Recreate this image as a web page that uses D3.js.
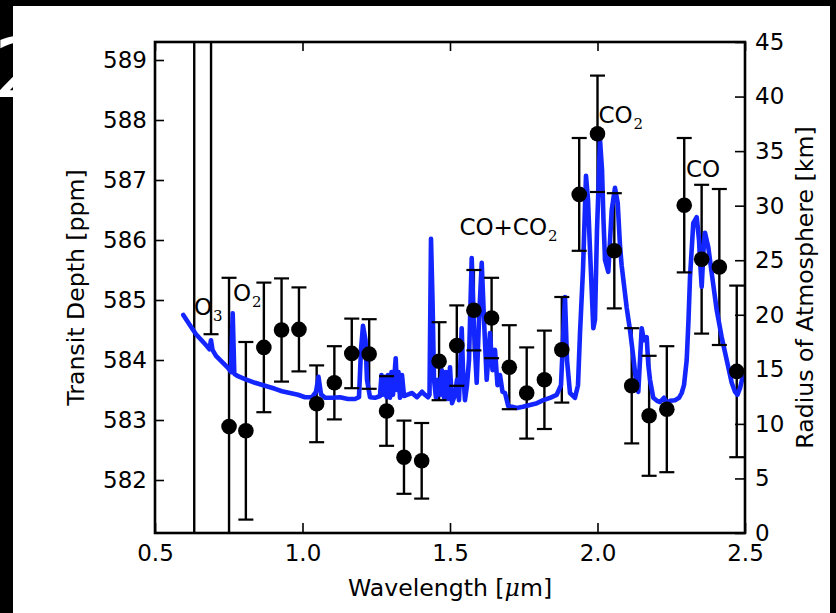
<!DOCTYPE html>
<html>
<head>
<meta charset="utf-8">
<script src="https://cdn.jsdelivr.net/npm/d3@7"></script>
<style>
  html, body { margin: 0; padding: 0; background: #000; }
  svg { display: block; }
  text { font-family: "DejaVu Sans", sans-serif; }
</style>
</head>
<body>
<svg id="chart" width="836" height="613"></svg>
<script>
// Binned transit-depth measurements (wavelength in µm, depth and 1-sigma error in ppm)
const binWavelength = [0.633, 0.690, 0.751, 0.808, 0.869, 0.929, 0.988, 1.048, 1.108, 1.167,
  1.226, 1.285, 1.344, 1.404, 1.463, 1.523, 1.581, 1.641, 1.701, 1.760, 1.820, 1.879,
  1.938, 2.000, 2.057, 2.116, 2.175, 2.235, 2.294, 2.353, 2.413, 2.472];
const binDepth = [590.00, 591.50, 582.89, 582.82, 584.21, 584.50, 584.51, 583.27, 583.62, 584.11,
  584.10, 583.15, 582.38, 582.32, 583.98, 584.24, 584.83, 584.70, 583.88, 583.45, 583.67, 584.17,
  586.76, 587.77, 585.82, 583.57, 583.07, 583.18, 586.58, 585.68, 585.55, 583.81];
const binError = [10.00, 7.07, 2.48, 1.48, 1.08, 0.86, 0.70, 0.64, 0.61, 0.58,
  0.58, 0.58, 0.61, 0.63, 0.65, 0.67, 0.67, 0.67, 0.70, 0.76, 0.82, 0.88,
  0.94, 0.97, 0.96, 0.96, 1.00, 1.05, 1.12, 1.24, 1.30, 1.43];

// Model transmission spectrum
const modelWavelength = [0.5959, 0.6186, 0.6390, 0.6593, 0.6763, 0.6847, 0.6898, 0.6949, 0.7068, 0.7271,
  0.7475, 0.7576, 0.7634, 0.7688, 0.7814, 0.8051, 0.8390, 0.8729, 0.9068, 0.9305,
  0.9576, 0.9847, 1.0085, 1.0322, 1.0458, 1.0542, 1.0627, 1.0763, 1.1000, 1.1271,
  1.1542, 1.1780, 1.1915, 1.1983, 1.2051, 1.2136, 1.2186, 1.2288, 1.2458, 1.2627,
  1.2678, 1.2729, 1.2797, 1.2847, 1.2898, 1.2966, 1.3017, 1.3068, 1.3159, 1.3203,
  1.3254, 1.3305, 1.3373, 1.3441, 1.3542, 1.3712, 1.3881, 1.4051, 1.4153, 1.4254,
  1.4305, 1.4356, 1.4407, 1.4458, 1.4525, 1.4593, 1.4661, 1.4729, 1.4797, 1.4864,
  1.4932, 1.5000, 1.5068, 1.5169, 1.5237, 1.5305, 1.5397, 1.5441, 1.5508, 1.5576,
  1.5644, 1.5736, 1.5814, 1.5905, 1.5983, 1.6075, 1.6153, 1.6244, 1.6356, 1.6441,
  1.6525, 1.6610, 1.6695, 1.6780, 1.6864, 1.6976, 1.7102, 1.7261, 1.7475, 1.7712,
  1.7949, 1.8163, 1.8390, 1.8617, 1.8763, 1.8831, 1.8898, 1.8966, 1.9068, 1.9237,
  1.9339, 1.9407, 1.9508, 1.9610, 1.9678, 1.9746, 1.9858, 1.9915, 1.9983, 2.0027,
  2.0085, 2.0153, 2.0203, 2.0254, 2.0366, 2.0482, 2.0593, 2.0685, 2.0763, 2.0820,
  2.0898, 2.0990, 2.1102, 2.1214, 2.1329, 2.1383, 2.1441, 2.1498, 2.1576, 2.1668,
  2.1722, 2.1780, 2.1892, 2.2017, 2.2119, 2.2254, 2.2356, 2.2458, 2.2627, 2.2763,
  2.2854, 2.2932, 2.3024, 2.3085, 2.3136, 2.3247, 2.3363, 2.3441, 2.3475, 2.3532,
  2.3593, 2.3644, 2.3756, 2.3871, 2.4041, 2.4210, 2.4380, 2.4549, 2.4661, 2.4746,
  2.4831, 2.4898, 2.5000];
const modelDepth = [584.75, 584.58, 584.43, 584.32, 584.23, 584.18, 584.33, 584.17, 584.07, 583.97,
  583.87, 583.80, 584.78, 583.77, 583.73, 583.68, 583.62, 583.57, 583.52, 583.48,
  583.45, 583.42, 583.38, 583.38, 583.47, 583.72, 583.43, 583.37, 583.37, 583.38,
  583.35, 583.35, 583.38, 584.17, 584.57, 584.33, 583.67, 583.38, 583.37, 583.40,
  583.75, 583.42, 583.72, 583.38, 583.75, 583.37, 583.80, 583.42, 584.03, 583.50,
  583.80, 583.37, 583.75, 583.40, 583.42, 583.45, 583.38, 583.47, 583.42, 583.38,
  583.42, 586.02, 585.00, 583.67, 583.37, 583.67, 583.42, 583.83, 583.37, 583.80,
  583.35, 583.88, 583.28, 583.42, 583.67, 583.33, 584.53, 583.83, 583.33, 583.58,
  584.00, 585.70, 584.50, 583.62, 584.67, 585.62, 584.67, 583.67, 584.45, 583.83,
  584.17, 583.58, 583.75, 583.47, 583.45, 583.23, 583.22, 583.20, 583.22, 583.25,
  583.28, 583.33, 583.37, 583.42, 583.58, 584.33, 585.05, 584.00, 583.45, 583.37,
  583.58, 584.45, 585.50, 587.07, 586.67, 585.83, 584.53, 584.67, 586.17, 586.78,
  587.67, 587.17, 586.33, 585.67, 585.47, 586.50, 586.87, 586.62, 585.90, 585.57,
  585.25, 584.87, 584.50, 584.05, 583.55, 583.47, 584.00, 584.53, 584.33, 584.38,
  583.92, 583.67, 583.37, 583.32, 583.30, 583.37, 583.28, 583.32, 583.33, 583.37,
  583.45, 583.58, 584.00, 584.67, 585.38, 586.28, 586.38, 586.00, 585.67, 585.22,
  585.83, 586.12, 585.88, 585.45, 584.83, 584.38, 584.00, 583.62, 583.47, 583.42,
  583.53, 583.67, 583.73];

// Axis ticks
const xTicks = [0.5, 1.0, 1.5, 2.0, 2.5];
const depthTicks = [582, 583, 584, 585, 586, 587, 588, 589];
const radiusTicks = [0, 5, 10, 15, 20, 25, 30, 35, 40, 45];

// Molecule labels: main text, subscript, anchor wavelength and depth
const moleculeMain = ["O", "O", "CO+CO", "CO", "CO"];
const moleculeSub = ["3", "2", "2", "2", ""];
const moleculeX = [0.632, 0.764, 1.532, 2.003, 2.300];
const moleculeY = [584.75, 584.98, 586.08, 587.95, 587.05];

const svg = d3.select("#chart");
const W = 836, H = 613;
const mLeft = 155, mRight = 745, mTop = 42, mBottom = 533;

// Page frame
svg.append("rect").attr("x", 0).attr("y", 0).attr("width", W).attr("height", H).attr("fill", "#000");
svg.append("rect").attr("x", 13).attr("y", 6).attr("width", 817).attr("height", H - 6).attr("fill", "#fff");

const x = d3.scaleLinear().domain([0.5, 2.5]).range([mLeft, mRight]);
const y = d3.scaleLinear().domain([581.1167, 589.3]).range([mBottom, mTop]);
const yR = d3.scaleLinear().domain([0, 45]).range([mBottom, mTop]);

svg.append("clipPath").attr("id", "plotClip")
  .append("rect").attr("x", mLeft).attr("y", mTop).attr("width", mRight - mLeft).attr("height", mBottom - mTop);

const plot = svg.append("g").attr("clip-path", "url(#plotClip)");

const pts = binWavelength.map((w, i) => ({ w, d: binDepth[i], e: binError[i] }));

// Error bar stems
plot.append("g").selectAll("line").data(pts).join("line")
  .attr("x1", d => x(d.w)).attr("x2", d => x(d.w))
  .attr("y1", d => y(d.d - d.e)).attr("y2", d => y(d.d + d.e))
  .attr("stroke", "#000").attr("stroke-width", 2.4);

// Model spectrum
const model = modelWavelength.map((w, i) => [w, modelDepth[i]]);
plot.append("path")
  .attr("d", d3.line().x(d => x(d[0])).y(d => y(d[1]))(model))
  .attr("fill", "none").attr("stroke", "#1426ff").attr("stroke-width", 4.6)
  .attr("stroke-linejoin", "round").attr("stroke-linecap", "round");

// Caps
const caps = plot.append("g");
pts.forEach(d => {
  [d.d - d.e, d.d + d.e].forEach(v => {
    caps.append("line")
      .attr("x1", x(d.w) - 7.5).attr("x2", x(d.w) + 7.5)
      .attr("y1", y(v)).attr("y2", y(v))
      .attr("stroke", "#000").attr("stroke-width", 2.2);
  });
});

// Markers
plot.append("g").selectAll("circle").data(pts).join("circle")
  .attr("cx", d => x(d.w)).attr("cy", d => y(d.d)).attr("r", 7.8).attr("fill", "#000");

// Axes
const fontSize = "23px";
function styleAxis(g) {
  g.selectAll(".domain").remove();
  g.selectAll(".tick line").attr("stroke", "#000").attr("stroke-width", 1.6);
  g.selectAll(".tick text").attr("font-size", fontSize).attr("fill", "#000")
    .attr("font-family", "DejaVu Sans");
}

svg.append("g").attr("transform", `translate(0,${mBottom})`)
  .call(d3.axisBottom(x).tickValues(xTicks).tickFormat(d3.format(".1f")).tickSize(-10).tickPadding(12))
  .call(styleAxis);
svg.append("g").attr("transform", `translate(0,${mTop})`)
  .call(d3.axisTop(x).tickValues(xTicks).tickFormat("").tickSize(-9))
  .call(styleAxis);
svg.append("g").attr("transform", `translate(${mLeft},0)`)
  .call(d3.axisLeft(y).tickValues(depthTicks).tickFormat(d3.format("d")).tickSize(-9).tickPadding(8))
  .call(styleAxis);
svg.append("g").attr("transform", `translate(${mRight},0)`)
  .call(d3.axisRight(yR).tickValues(radiusTicks).tickFormat(d3.format("d")).tickSize(-10).tickPadding(10))
  .call(styleAxis);

// Frame
svg.append("rect").attr("x", mLeft).attr("y", mTop).attr("width", mRight - mLeft).attr("height", mBottom - mTop)
  .attr("fill", "none").attr("stroke", "#000").attr("stroke-width", 2.6);

// Axis titles
const titleSize = "23.6px";
const xt = svg.append("text").attr("x", (mLeft + mRight) / 2).attr("y", 596)
  .attr("text-anchor", "middle").attr("font-size", titleSize).attr("fill", "#000");
xt.append("tspan").text("Wavelength [");
xt.append("tspan").attr("font-family", "DejaVu Serif").attr("font-style", "italic").text("μ");
xt.append("tspan").text("m]");

svg.append("text").attr("transform", `translate(84,${(mTop + mBottom) / 2}) rotate(-90)`)
  .attr("text-anchor", "middle").attr("font-size", titleSize).attr("fill", "#000")
  .text("Transit Depth [ppm]");
svg.append("text").attr("transform", `translate(813,${(mTop + mBottom) / 2}) rotate(-90)`)
  .attr("text-anchor", "middle").attr("font-size", titleSize).attr("fill", "#000")
  .text("Radius of Atmosphere [km]");

// Molecule annotations
moleculeMain.forEach((m, i) => {
  const t = svg.append("text").attr("x", x(moleculeX[i])).attr("y", y(moleculeY[i]))
    .attr("font-size", fontSize).attr("fill", "#000");
  t.append("tspan").text(m);
  if (moleculeSub[i]) {
    t.append("tspan").attr("font-family", "DejaVu Serif").attr("font-size", "15px")
      .attr("dx", 1).attr("dy", 6).text(moleculeSub[i]);
  }
});

// Panel number
svg.append("text").attr("x", -6).attr("y", 97).attr("font-size", "82px")
  .attr("fill", "#fff").text("2");
</script>
</body>
</html>
